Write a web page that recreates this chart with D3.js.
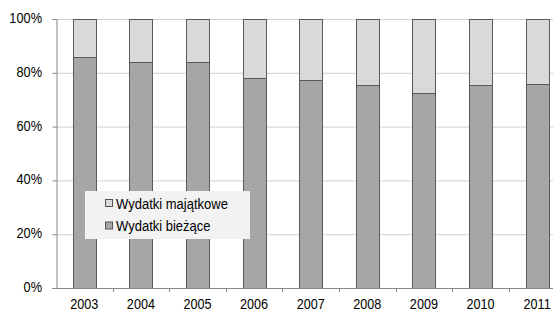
<!DOCTYPE html>
<html><head><meta charset="utf-8">
<script src="https://cdn.jsdelivr.net/npm/d3@7"></script>
<style>body{margin:0;background:#fff}svg{display:block}</style>
</head><body>
<script>
const years = ["2003","2004","2005","2006","2007","2008","2009","2010","2011"];
const biezace = [85.9, 84.1, 84.0, 78.1, 77.3, 75.4, 72.4, 75.4, 75.7];
const majatkowe = biezace.map(v => 100 - v);
const yTicks = [0, 20, 40, 60, 80, 100];
const seriesNames = ["Wydatki majątkowe", "Wydatki bieżące"];
const colors = {"Wydatki majątkowe": "#d9d9d9", "Wydatki bieżące": "#a6a6a6"};

const W = 553, H = 313;
const m = {left: 56, top: 19, bottom: 288};
const FONT = "'Liberation Sans', Arial, sans-serif";
const FS = 14.7;
const svg = d3.select("body").append("svg").attr("width", W).attr("height", H)
  .style("font-family", FONT);

const x = d3.scaleBand().domain(years).range([m.left, m.left + 9 * 56.6]).paddingInner(0.594).paddingOuter(0.297);
const y = d3.scaleLinear().domain([0, 100]).range([m.bottom, m.top]);

// gridlines
svg.append("g").selectAll("line").data(yTicks.filter(d => d > 0)).join("line")
  .attr("x1", m.left).attr("x2", W).attr("y1", d => y(d) + 0.5).attr("y2", d => y(d) + 0.5)
  .attr("stroke", "#d0d0d0").attr("stroke-width", 1);

// bars
const data = years.map((yr, i) => ({yr, b: biezace[i], m: majatkowe[i]}));
const g = svg.append("g");
g.selectAll("rect.b").data(data).join("rect").attr("class", "b")
  .attr("x", d => Math.round(x(d.yr)) + 0.5).attr("width", Math.round(x.bandwidth()))
  .attr("y", d => Math.round(y(d.b)) + 0.5).attr("height", d => m.bottom - Math.round(y(d.b)))
  .attr("fill", colors["Wydatki bieżące"]).attr("stroke", "#5a5a5a");
g.selectAll("rect.m").data(data).join("rect").attr("class", "m")
  .attr("x", d => Math.round(x(d.yr)) + 0.5).attr("width", Math.round(x.bandwidth()))
  .attr("y", d => Math.round(y(100)) + 0.5).attr("height", d => Math.round(y(d.b)) - Math.round(y(100)))
  .attr("fill", colors["Wydatki majątkowe"]).attr("stroke", "#5a5a5a");

// y axis
const yAx = svg.append("g").attr("transform", `translate(${m.left + 0.5},0)`)
  .call(d3.axisLeft(y).tickValues(yTicks).tickFormat(d => d + "%").tickSize(4).tickPadding(9));
yAx.select(".domain").attr("stroke", "#888");
yAx.selectAll(".tick line").attr("stroke", "#888");
yAx.selectAll("text").attr("font-size", FS).attr("fill", "#000").attr("font-family", FONT)
  .attr("x", null).attr("dy", "0.3em").attr("transform", "translate(-14.5,-1) scale(0.87,1)");

// x axis
const xAx = svg.append("g").attr("transform", `translate(0,${m.bottom + 0.5})`)
  .call(d3.axisBottom(x).tickSize(0).tickPadding(10.5));
xAx.select(".domain").attr("stroke", "#888").attr("d", `M${m.left},0H${W}`);
xAx.selectAll("text").attr("font-size", FS).attr("fill", "#000").attr("font-family", FONT)
  .attr("transform", "scale(0.86,1)");
// category separator ticks
const step = x.step();
svg.append("g").selectAll("line").data(years.slice(1)).join("line")
  .attr("x1", d => Math.round(x(d) - x.paddingInner() * step / 2) + 0.5)
  .attr("x2", d => Math.round(x(d) - x.paddingInner() * step / 2) + 0.5)
  .attr("y1", m.bottom).attr("y2", m.bottom + 4).attr("stroke", "#888");

// legend
const lg = svg.append("g").attr("transform", "translate(85,191)");
lg.append("rect").attr("width", 165).attr("height", 48).attr("fill", "#f2f2f2");
seriesNames.forEach((s, i) => {
  const row = lg.append("g").attr("transform", `translate(20,${12 + i * 22.5})`);
  row.append("rect").attr("x", 0.5).attr("y", -3.5).attr("width", 7).attr("height", 7)
    .attr("fill", colors[s]).attr("stroke", "#555");
  row.append("text").attr("transform", "translate(11,5.5) scale(0.885,1)")
    .attr("font-size", FS).attr("fill", "#000").text(s);
});
</script>
</body></html>
